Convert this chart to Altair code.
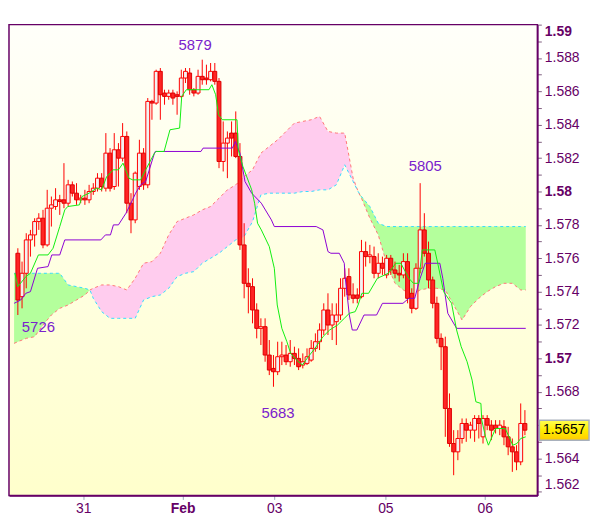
import altair as alt
import pandas as pd

# ---------------- data ----------------
opens = [1.5763,1.5737,1.5751,1.5771,1.5774,1.5782,1.5784,1.5768,1.5790,1.5791,
         1.5795,1.5795,1.5793,1.5804,1.5799,1.5795,1.5796,1.5795,1.5800,1.5802,
         1.5808,1.5802,1.5823,1.5803,1.5825,1.5820,1.5833,1.5793,1.5783,1.5803,
         1.5823,1.5804,1.5854,1.5853,1.5872,1.5859,1.5857,1.5859,1.5858,1.5857,
         1.5868,1.5871,1.5861,1.5859,1.5869,1.5868,1.5867,1.5872,1.5866,1.5818,
         1.5829,1.5835,1.5835,1.5821,1.5768,1.5745,1.5743,1.5729,1.5718,1.5719,
         1.5702,1.5694,1.5692,1.5701,1.5702,1.5698,1.5703,1.5700,1.5696,1.5697,
         1.5699,1.5706,1.5710,1.5717,1.5729,1.5720,1.5722,1.5726,1.5742,1.5749,
         1.5738,1.5738,1.5737,1.5764,1.5761,1.5761,1.5751,1.5757,1.5750,1.5760,
         1.5753,1.5751,1.5750,1.5758,1.5739,1.5730,1.5754,1.5777,1.5763,1.5747,
         1.5733,1.5712,1.5707,1.5670,1.5649,1.5644,1.5652,1.5661,1.5657,1.5657,
         1.5664,1.5653,1.5664,1.5660,1.5660,1.5658,1.5659,1.5653,1.5647,1.5644,
         1.5638,1.5661]
highs = [1.5766,1.5758,1.5775,1.5777,1.5784,1.5787,1.5789,1.5801,1.5797,1.5802,
         1.5798,1.5817,1.5807,1.5806,1.5805,1.5798,1.5801,1.5804,1.5805,1.5811,
         1.5811,1.5835,1.5826,1.5835,1.5829,1.5841,1.5836,1.5799,1.5812,1.5831,
         1.5826,1.5856,1.5855,1.5873,1.5874,1.5861,1.5861,1.5861,1.5860,1.5873,
         1.5874,1.5874,1.5862,1.5873,1.5879,1.5876,1.5877,1.5877,1.5868,1.5842,
         1.5836,1.5842,1.5848,1.5829,1.5781,1.5754,1.5748,1.5733,1.5724,1.5724,
         1.5711,1.5702,1.5710,1.5710,1.5708,1.5711,1.5707,1.5706,1.5703,1.5706,
         1.5711,1.5715,1.5721,1.5733,1.5739,1.5733,1.5733,1.5748,1.5754,1.5754,
         1.5745,1.5742,1.5771,1.5770,1.5768,1.5767,1.5763,1.5761,1.5762,1.5762,
         1.5758,1.5756,1.5763,1.5763,1.5742,1.5757,1.5805,1.5787,1.5770,1.5749,
         1.5737,1.5715,1.5713,1.5679,1.5657,1.5657,1.5664,1.5664,1.5662,1.5666,
         1.5666,1.5666,1.5666,1.5663,1.5663,1.5663,1.5663,1.5659,1.5652,1.5648,
         1.5673,1.5669]
lows = [1.5726,1.5730,1.5742,1.5761,1.5767,1.5777,1.5766,1.5767,1.5779,1.5789,
        1.5786,1.5790,1.5791,1.5797,1.5792,1.5793,1.5792,1.5793,1.5798,1.5800,
        1.5800,1.5800,1.5800,1.5801,1.5803,1.5818,1.5787,1.5775,1.5781,1.5801,
        1.5801,1.5802,1.5843,1.5852,1.5843,1.5852,1.5855,1.5852,1.5846,1.5856,
        1.5865,1.5858,1.5857,1.5858,1.5864,1.5864,1.5866,1.5864,1.5814,1.5812,
        1.5808,1.5821,1.5820,1.5765,1.5736,1.5727,1.5721,1.5712,1.5708,1.5698,
        1.5690,1.5683,1.5690,1.5696,1.5696,1.5695,1.5696,1.5693,1.5694,1.5696,
        1.5698,1.5704,1.5705,1.5714,1.5714,1.5711,1.5708,1.5723,1.5737,1.5735,
        1.5733,1.5733,1.5736,1.5755,1.5757,1.5748,1.5748,1.5750,1.5748,1.5750,
        1.5748,1.5746,1.5748,1.5733,1.5727,1.5729,1.5751,1.5761,1.5742,1.5730,
        1.5709,1.5693,1.5653,1.5647,1.5630,1.5639,1.5649,1.5650,1.5652,1.5650,
        1.5652,1.5649,1.5657,1.5651,1.5655,1.5654,1.5648,1.5642,1.5632,1.5633,
        1.5636,1.5654]
closes = [1.5735,1.5751,1.5771,1.5774,1.5782,1.5784,1.5768,1.5790,1.5792,1.5795,
          1.5794,1.5793,1.5804,1.5799,1.5795,1.5796,1.5795,1.5800,1.5802,1.5808,
          1.5803,1.5823,1.5802,1.5825,1.5820,1.5833,1.5793,1.5783,1.5811,1.5823,
          1.5804,1.5854,1.5853,1.5872,1.5858,1.5857,1.5859,1.5856,1.5857,1.5868,
          1.5872,1.5861,1.5859,1.5869,1.5867,1.5867,1.5872,1.5866,1.5818,1.5829,
          1.5832,1.5832,1.5821,1.5768,1.5745,1.5743,1.5729,1.5718,1.5719,1.5702,
          1.5693,1.5692,1.5701,1.5702,1.5698,1.5703,1.5700,1.5695,1.5698,1.5701,
          1.5706,1.5710,1.5717,1.5729,1.5720,1.5726,1.5726,1.5742,1.5748,1.5738,
          1.5736,1.5736,1.5764,1.5761,1.5762,1.5751,1.5757,1.5754,1.5760,1.5753,
          1.5751,1.5750,1.5758,1.5736,1.5730,1.5754,1.5777,1.5763,1.5747,1.5733,
          1.5712,1.5707,1.5670,1.5649,1.5644,1.5652,1.5661,1.5657,1.5660,1.5664,
          1.5661,1.5664,1.5660,1.5657,1.5658,1.5660,1.5653,1.5647,1.5644,1.5638,
          1.5661,1.5657]

# Tenkan-sen (green)
tenkan_idx = [-0.7,0,1.9,3.0,4.9,7.2,8.4,10.0,11.2,11.9,14.7,15.3,17.0,18.8,20.0,21.2,22.8,24.0,25.1,26.5,
              27.4,29.3,30.5,32.6,33.0,34.9,36.3,38.6,39.1,40.2,45.6,46.3,47.2,47.9,48.8,52.3,52.6,53.7,55.8,56.5,
              57.2,58.1,60.0,61.2,61.9,63.0,64.2,65.1,66.5,67.9,69.3,70.9,72.8,74.4,76.3,77.9,79.1,80.5,81.2,82.1,
              83.7,85.8,88.4,90.2,91.4,93.3,94.4,95.6,96.5,99.5,100.2,101.6,103.5,104.7,105.8,107.2,108.4,109.3,110.5,110.7,
              111.6,112.3,114.0,116.3,117.4,118.1,119.1,120.0,121.2]
tenkan_val = [1.5751,1.5743,1.5749,1.5751,1.5762,1.5762,1.5766,1.5779,1.5789,1.5791,1.5792,1.5797,1.5799,1.5802,1.5801,1.5809,1.5813,1.5813,1.5817,1.5808,
              1.5807,1.5807,1.5813,1.5823,1.5824,1.5824,1.5837,1.5838,1.5857,1.5861,1.5861,1.5864,1.5858,1.5846,1.5843,1.5843,1.5825,1.5815,1.5801,1.5793,
              1.5781,1.5777,1.5767,1.5754,1.5732,1.5718,1.5710,1.5703,1.5699,1.5696,1.5701,1.5706,1.5713,1.5717,1.5720,1.5724,1.5727,1.5728,1.5732,1.5739,
              1.5739,1.5748,1.5751,1.5757,1.5757,1.5748,1.5745,1.5745,1.5765,1.5765,1.5757,1.5740,1.5733,1.5717,1.5707,1.5698,1.5687,1.5674,1.5673,1.5663,
              1.5653,1.5648,1.5658,1.5658,1.5652,1.5648,1.5649,1.5652,1.5653]

# Kijun-sen (purple)
kijun_idx = [-0.9,0.7,1.9,3.0,4.7,7.2,8.1,10.0,11.2,19.8,20.9,22.1,22.8,24.0,25.8,27.0,28.1,29.3,30.5,32.6,
             32.8,43.7,44.2,51.2,51.9,53.0,54.2,55.8,58.1,60.5,61.2,71.2,72.8,74.0,74.7,76.7,77.9,78.1,79.1,79.8,
             80.9,82.6,85.6,87.0,91.9,93.3,94.7,96.0,97.2,100.7,101.4,102.6,104.7,121.2]
kijun_val = [1.5733,1.5735,1.5739,1.5740,1.5754,1.5755,1.5762,1.5762,1.5771,1.5771,1.5774,1.5774,1.5780,1.5780,1.5787,1.5793,1.5799,1.5804,1.5806,1.5823,
             1.5824,1.5824,1.5826,1.5826,1.5830,1.5823,1.5806,1.5799,1.5793,1.5783,1.5779,1.5779,1.5777,1.5764,1.5763,1.5763,1.5757,1.5749,1.5726,1.5717,
             1.5717,1.5726,1.5726,1.5733,1.5733,1.5736,1.5736,1.5748,1.5757,1.5757,1.5748,1.5727,1.5718,1.5718]

# Cloud: Senkou span A (salmon) and span B (cyan)
cloud_idx = [-0.9,0,2,4,6,8,10,12,14,16,17.2,18,20,22,24,26,28,30,32,34,
             36,38,40,42,44,46,48,50,52,54,56,58,60,62,64,66,68,70,72,74,
             76,78,80,81.2,82,84,86,88,90,92,94,96,98,100,102,104,106,108,110,112,
             114,116,118,120,121.2]
span_a = [1.5709,1.5710,1.5712,1.5713,1.5720,1.5726,1.5730,1.5732,1.5735,1.5738,
          1.5741,1.5742,1.5744,1.5744,1.5743,1.5741,1.5748,1.5757,1.5758,1.5763,
          1.5774,1.5782,1.5784,1.5786,1.5789,1.5791,1.5796,1.5801,1.5804,1.5809,
          1.5813,1.5823,1.5827,1.5831,1.5836,1.5841,1.5842,1.5843,1.5845,1.5836,
          1.5835,1.5835,1.5808,1.5800,1.5796,1.5784,1.5774,1.5757,1.5745,1.5741,
          1.5738,1.5741,1.5742,1.5742,1.5741,1.5732,1.5723,1.5731,1.5736,1.5740,
          1.5743,1.5745,1.5745,1.5741,1.5741]
span_b = [1.5751,1.5751,1.5751,1.5751,1.5751,1.5751,1.5751,1.5744,1.5743,1.5742,
          1.5741,1.5736,1.5728,1.5724,1.5724,1.5724,1.5724,1.5735,1.5737,1.5738,
          1.5742,1.5749,1.5751,1.5752,1.5757,1.5760,1.5763,1.5767,1.5771,1.5773,
          1.5782,1.5798,1.5799,1.5799,1.5799,1.5799,1.5800,1.5800,1.5801,1.5801,
          1.5804,1.5816,1.5806,1.5800,1.5797,1.5791,1.5781,1.5779,1.5779,1.5779,
          1.5779,1.5779,1.5779,1.5779,1.5779,1.5779,1.5779,1.5779,1.5779,1.5779,
          1.5779,1.5779,1.5779,1.5779,1.5779]

# swing labels
ann_text = ["5726", "5879", "5683", "5805"]
ann_idx = [4.9, 42.3, 62.1, 97.2]
ann_price = [1.5719, 1.58875, 1.56673, 1.58155]

# x axis day labels
x_tick_idx = [15.6, 39.3, 61.2, 87.7, 111.4]
x_tick_labels = ["31", "Feb", "03", "05", "06"]
x_bold = ["Feb"]

y_tick_values = [round(1.562 + k * 0.001, 3) for k in range(29)]

# ---------------- styling ----------------
W, H = 532, 474
FONT = "Liberation Sans"
AXC = "#660066"
last_price = closes[-1]
x_scale = alt.Scale(domain=[-0.93, 122.79], nice=False, zero=False)
y_scale = alt.Scale(domain=[1.56179, 1.59], nice=False, zero=False)

x_expr = " : ".join(
    f"abs(datum.value - {v}) < 0.01 ? '{t}'" for v, t in zip(x_tick_idx, x_tick_labels)
) + " : ''"
x_bold_test = " || ".join(
    f"abs(datum.value - {v}) < 0.01" for v, t in zip(x_tick_idx, x_tick_labels) if t in x_bold
)
y_expr = (f"abs(datum.value - {last_price}) < 0.0008 ? '' : "
          "(round(datum.value*1000) % 2 == 0 ? (round(datum.value*1000) % 10 == 0 ? "
          "format(datum.value, '.2f') : format(datum.value, '.3f')) : '')")

x_axis = alt.Axis(values=x_tick_idx, labelExpr=x_expr,
                  labelFontWeight={"condition": {"test": x_bold_test, "value": "bold"}, "value": "normal"},
                  labelFontSize=14, labelColor=AXC, labelFont=FONT, tickColor="#99aabb", tickSize=4,
                  labelPadding=2, domainColor=AXC, domainWidth=1.5, grid=False, title=None,
                  labelOverlap=False, labelFlush=False, zindex=0)
y_axis = alt.Axis(orient="right", values=y_tick_values, labelExpr=y_expr,
                  labelFontWeight={"condition": {"test": "round(datum.value*1000) % 10 == 0", "value": "bold"}, "value": "normal"},
                  labelFontSize=14, labelColor=AXC, labelFont=FONT, tickColor="#806080", tickSize=4,
                  labelPadding=3, domainColor=AXC, domainWidth=1.5, grid=False, title=None,
                  labelOverlap=False, labelFlush=5, zindex=0)


def X(field="idx"):
    return alt.X(f"{field}:Q", scale=x_scale, axis=x_axis, title=None)


def Y(field):
    return alt.Y(f"{field}:Q", scale=y_scale, axis=y_axis, title=None)


# ---------------- tables ----------------
candles = pd.DataFrame({"idx": list(range(len(opens))), "o": opens, "h": highs, "l": lows, "c": closes})
tenkan = pd.DataFrame({"idx": tenkan_idx, "v": tenkan_val})
kijun = pd.DataFrame({"idx": kijun_idx, "v": kijun_val})
cloud_line = pd.DataFrame({"idx": cloud_idx, "a": span_a, "b": span_b})

# split cloud into coloured segments
segs = []
cur = None
for i in range(len(cloud_idx) - 1):
    col = "g" if (span_b[i] + span_b[i + 1]) > (span_a[i] + span_a[i + 1]) else "p"
    if cur is None or cur["col"] != col:
        cur = {"col": col, "pts": [i]}
        segs.append(cur)
    cur["pts"].append(i + 1)
rows = []
for sid, s in enumerate(segs):
    for i in s["pts"]:
        rows.append({"idx": cloud_idx[i], "a": span_a[i], "b": span_b[i], "col": s["col"], "seg": sid})
cloud_area_df = pd.DataFrame(rows)

ann = pd.DataFrame({"idx": ann_idx, "p": ann_price, "t": ann_text})
tag = pd.DataFrame({"p": [last_price], "t": [f"{last_price:.4f}"]})

# ---------------- layers ----------------
bg_grad = alt.LinearGradient(gradient="linear", x1=0, y1=0, x2=0, y2=1,
                             stops=[alt.GradientStop(color="#fffffa", offset=0),
                                    alt.GradientStop(color="#ffffe2", offset=0.5),
                                    alt.GradientStop(color="#ffffcc", offset=1)])
bg = alt.Chart(pd.DataFrame({"z": [0]})).mark_rect(fill=bg_grad, stroke=AXC, strokeWidth=1.5).encode(
    x=alt.value(0), x2=alt.value(W), y=alt.value(0), y2=alt.value(H))

cloud = alt.Chart(cloud_area_df).mark_area(clip=True, opacity=1, strokeWidth=0).encode(
    x=X(), y=Y("a"), y2=alt.Y2("b"),
    color=alt.Color("col:N", scale=alt.Scale(domain=["g", "p"], range=["#b4ff9c", "#ffccee"]), legend=None),
    detail="seg:N")

line_a = alt.Chart(cloud_line).mark_line(clip=True, color="#ff7777", strokeDash=[3, 3], strokeWidth=1).encode(
    x=X(), y=Y("a"))
line_b = alt.Chart(cloud_line).mark_line(clip=True, color="#33ddff", strokeDash=[3, 3], strokeWidth=1).encode(
    x=X(), y=Y("b"))

wicks = alt.Chart(candles).mark_rule(clip=True, color="#ff0000", strokeWidth=1).encode(
    x=X(), y=Y("l"), y2=alt.Y2("h"))
bodies = alt.Chart(candles).mark_bar(clip=True, size=3.9, strokeWidth=1).encode(
    x=X(), y=Y("o"), y2=alt.Y2("c"),
    fill=alt.condition("datum.c < datum.o", alt.value("#ff2424"), alt.value("#f2f2f2")),
    stroke=alt.condition("datum.c < datum.o", alt.value("#dd0000"), alt.value("#ff0000")))

kij = alt.Chart(kijun).mark_line(clip=True, color="#8c00d4", strokeWidth=1).encode(x=X(), y=Y("v"))
ten = alt.Chart(tenkan).mark_line(clip=True, color="#11ee11", strokeWidth=1).encode(x=X(), y=Y("v"))

ann_layer = alt.Chart(ann).mark_text(font=FONT, fontSize=15, color="#7a22cc", align="center",
                                     baseline="middle").encode(x=X(), y=Y("p"), text="t:N")

tag_grad = alt.LinearGradient(gradient="linear", x1=0, y1=0, x2=0, y2=1,
                              stops=[alt.GradientStop(color="#ffff55", offset=0),
                                     alt.GradientStop(color="#ffee00", offset=0.5),
                                     alt.GradientStop(color="#ffcc00", offset=1)])
tag_rect = alt.Chart(tag).transform_calculate(hi="datum.p + 0.0006", lo="datum.p - 0.0006").mark_rect(
    fill=tag_grad, stroke="#a8b0bc", strokeWidth=1.5).encode(
    x=alt.value(W + 2), x2=alt.value(W + 52), y=Y("hi"), y2=alt.Y2("lo"))
tag_text = alt.Chart(tag).mark_text(font=FONT, fontSize=14, color="#000000", align="center",
                                    baseline="middle").encode(x=alt.value(W + 27), y=Y("p"), text="t:N")

chart = alt.layer(bg, cloud, line_a, line_b, wicks, bodies, kij, ten, ann_layer, tag_rect, tag_text).properties(
    width=W, height=H, padding={"left": 0, "top": 14, "right": 2, "bottom": 0}
).configure(font=FONT).configure_view(stroke=None)

chart.save("out.html", embed_options={"renderer": "svg", "actions": False})
